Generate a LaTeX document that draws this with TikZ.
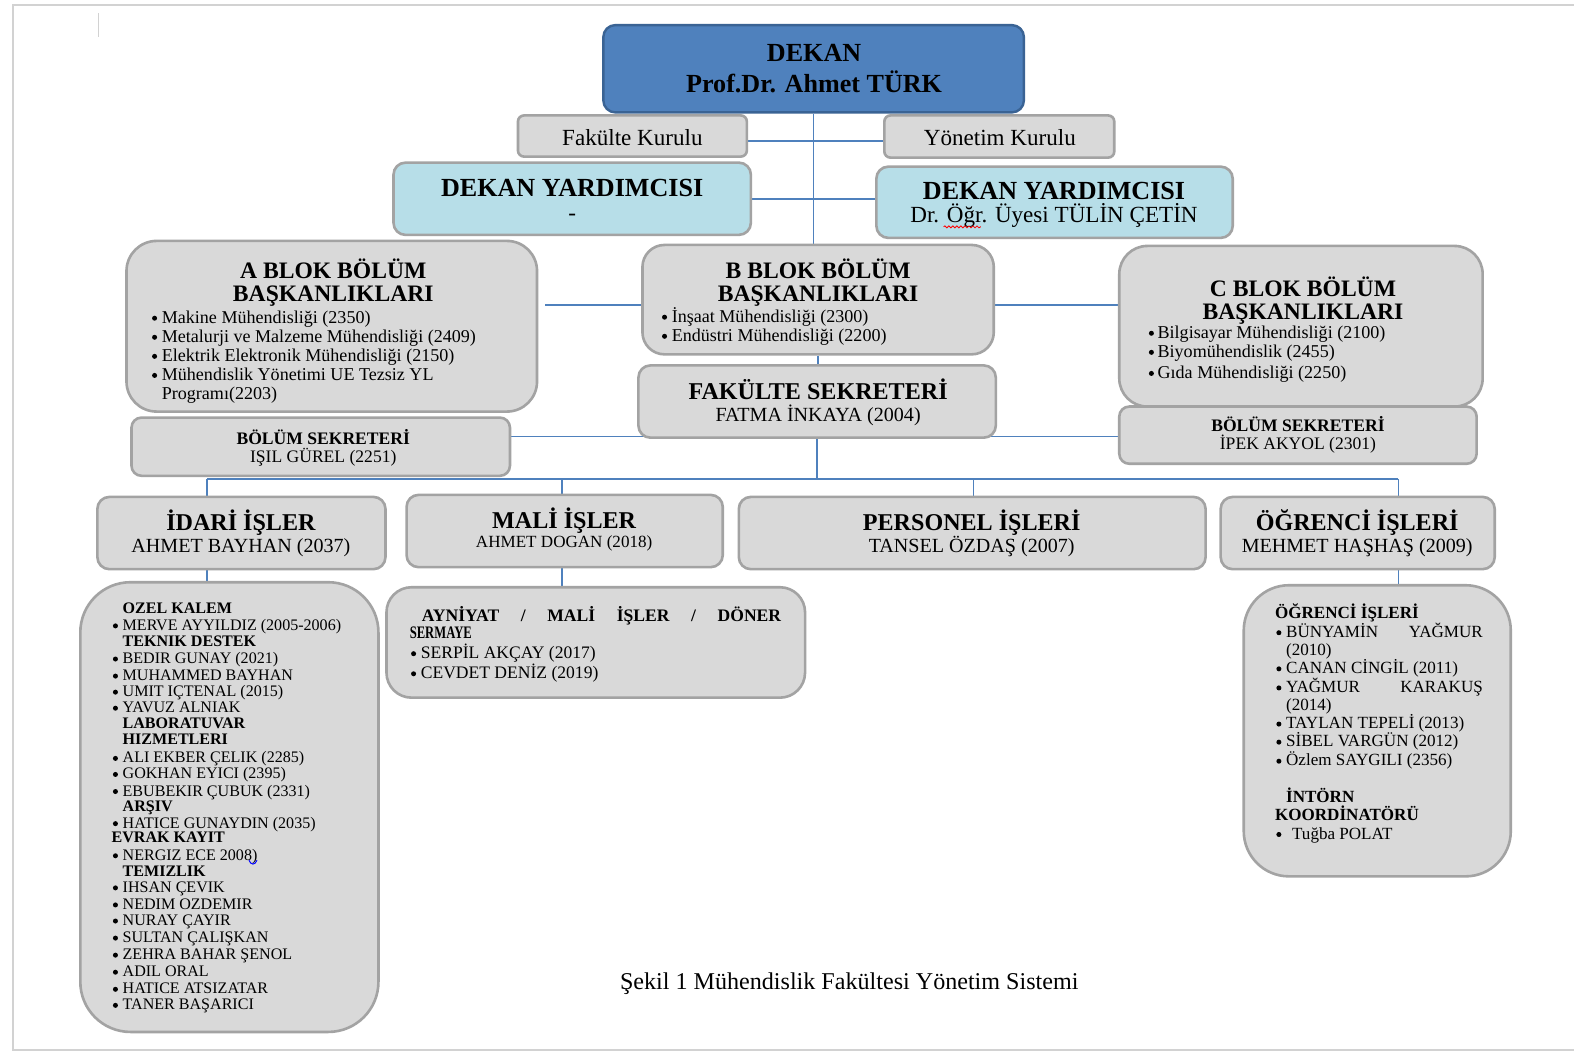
\documentclass[tikz,border=0pt]{standalone}
\usepackage{fontspec}
\usepackage{graphicx}
\setmainfont{Liberation Serif}
\usetikzlibrary{fit,decorations.pathmorphing}
\definecolor{dkfill}{HTML}{4F81BD}
\definecolor{dkline}{HTML}{3A6394}
\definecolor{gfill}{HTML}{D9D9D9}
\definecolor{gline}{HTML}{A3A3A3}
\definecolor{bfill}{HTML}{B7DEE8}
\definecolor{connc}{HTML}{4F81BD}
\definecolor{framec}{HTML}{D2D2D2}
\pgfdeclarelayer{bg}
\pgfsetlayers{bg,main}
\newcommand\fz[1]{\fontsize{#1}{#1}\selectfont}
\newcommand\li[5]{\fill (#1,#3-#4) circle (2.5pt); \node[t] at (#2,#3) {#5};}
\tikzset{
  box/.style={draw=gline, line width=2.6pt, fill=gfill, inner sep=0pt, rounded corners=#1},
  box/.default=12pt,
  t/.style={inner sep=0pt, anchor=base west},
  c/.style={inner sep=0pt, anchor=base},
  conn/.style={draw=connc, line width=1.5pt}
}
\begin{document}
\begin{tikzpicture}[x=1pt,y=-1pt]
\useasboundingbox (0,0) rectangle (1568,1049);
\begin{pgfonlayer}{bg}
\fill[white] (0,0) rectangle (1568,1049);
\end{pgfonlayer}
% page frame
\draw[framec, line width=1.6pt] (1570,5) -- (13,5) -- (13,1046) -- (1570,1046);
\draw[framec, line width=1.6pt] (98,13) -- (98,37);

% boxes
\node[box, fill=dkfill, draw=dkline, line width=2.4pt, fit={(601,25)(1020,112)}] (dekan) {};
\node[box=6pt, fit={(516,115)(744,156)}] (fk) {};
\node[box=6pt, fit={(881,115)(1110,157)}] (yk) {};
\node[box, fill=bfill, fit={(392,162)(748,234)}] (dyl) {};
\node[box, fill=bfill, fit={(873,166)(1228,237)}] (dyr) {};
\node[box=30pt, fit={(126,240)(535,410)}] (ablok) {};
\node[box=22pt, fit={(640,244)(990,353)}] (bblok) {};
\node[box=28pt, fit={(1115,245)(1477,405)}] (cblok) {};
\node[box, fit={(636,364)(992,436)}] (fsek) {};
\node[box=10pt, fit={(131,416)(508,474)}] (bsl) {};
\node[box=10pt, fit={(1115,405)(1471,462)}] (bsr) {};
\node[box, fit={(97,495)(384,567)}] (idari) {};
\node[box, fit={(405,493)(720,565)}] (mali) {};
\node[box, fit={(736,495)(1201,567)}] (pers) {};
\node[box, fit={(1216,495)(1489,567)}] (ogr) {};
\node[box=50pt, fit={(80,580)(377,1028)}] (lstl) {};
\node[box=25pt, fit={(385,585)(802,695)}] (lstm) {};
\node[box=45pt, fit={(1239,583)(1505,873)}] (lstr) {};

% connectors
\coordinate (aend) at (543,304);
\coordinate (busL) at (206,477);
\coordinate (busM) at (560,477);
\coordinate (busP) at (970,477);
\coordinate (busR) at (1393,477);
\begin{pgfonlayer}{bg}
\draw[conn] (dekan.south) -- (dekan.south |- bblok.north);
\draw[conn] (bblok.south) -- (bblok.south |- fsek.north);
\draw[conn] (fsek.south) -- (fsek.south |- busL);
\draw[conn] ([yshift=-5pt]fk.east) -- ([yshift=-5pt]fk.east -| yk.west);
\draw[conn] (dyl.east) -- (dyl.east -| dyr.west);
\draw[conn] (aend) -- (aend -| bblok.west);
\draw[conn] (bblok.east |- aend) -- (aend -| cblok.west);
\draw[conn] ([yshift=10pt]bsl.east) -- ([yshift=10pt]bsl.east -| bsr.west);
\draw[conn] (busL) -- (busR);
\draw[conn] (busL) -- (busL |- idari.north);
\draw[conn] (busM) -- (busM |- mali.north);
\draw[conn] (busP) -- (busP |- pers.north);
\draw[conn] (busR) -- (busR |- ogr.north);
\draw[conn] (busL |- idari.south) -- (busL |- lstl.north);
\draw[conn] (busM |- mali.south) -- (busM |- lstm.north);
\draw[conn] (busR |- ogr.south) -- (busR |- lstr.north);
\end{pgfonlayer}

% top texts
\node[c, font=\fz{26}\bfseries] at (811,61) {DEKAN};
\node[c, font=\fz{26}\bfseries] at (811,92) {Prof.Dr. Ahmet TÜRK};
\node[c, font=\fz{23}] at (630,145) {Fakülte Kurulu};
\node[c, font=\fz{23}] at (996,145) {Yönetim Kurulu};
\node[c, font=\fz{26}\bfseries] at (570,196) {DEKAN YARDIMCISI};
\node[c, font=\fz{23}] at (570,220) {-};
\node[c, font=\fz{26}\bfseries] at (1050,199) {DEKAN YARDIMCISI};
\node[c, font=\fz{23}] at (1050,222) {Dr. Öğr. Üyesi TÜLİN ÇETİN};
\draw[red, line width=0.8pt, decorate, decoration={snake, amplitude=1pt, segment length=4pt}] (940,226) -- (977,226);

% A blok
\node[c, font=\fz{23.5}\bfseries] at (332,277) {A BLOK BÖLÜM};
\node[c, font=\fz{23.5}\bfseries] at (332,300) {BAŞKANLIKLARI};
\begin{scope}[font=\fz{18}]
\li{154}{161}{322}{5}{Makine Mühendisliği (2350)}
\li{154}{161}{341}{5}{Metalurji ve Malzeme Mühendisliği (2409)}
\li{154}{161}{360}{5}{Elektrik Elektronik Mühendisliği (2150)}
\li{154}{161}{379}{5}{Mühendislik Yönetimi UE Tezsiz YL}
\node[t] at (161,398) {Programı(2203)};
\end{scope}

% B blok
\node[c, font=\fz{23.5}\bfseries] at (815,277) {B BLOK BÖLÜM};
\node[c, font=\fz{23.5}\bfseries] at (815,300) {BAŞKANLIKLARI};
\begin{scope}[font=\fz{18}]
\li{662}{669}{321}{5}{İnşaat Mühendisliği (2300)}
\li{662}{669}{340}{5}{Endüstri Mühendisliği (2200)}
\end{scope}

% C blok
\node[c, font=\fz{23.5}\bfseries] at (1298,295) {C BLOK BÖLÜM};
\node[c, font=\fz{23.5}\bfseries] at (1298,318) {BAŞKANLIKLARI};
\begin{scope}[font=\fz{18}]
\li{1147}{1153}{337}{5}{Bilgisayar Mühendisliği (2100)}
\li{1147}{1153}{356}{5}{Biyomühendislik (2455)}
\li{1147}{1153}{377}{5}{Gıda Mühendisliği (2250)}
\end{scope}

% secretaries
\node[c, font=\fz{24}\bfseries] at (815,398) {FAKÜLTE SEKRETERİ};
\node[c, font=\fz{20}] at (815,420) {FATMA İNKAYA (2004)};
\node[c, font=\fz{17.5}\bfseries] at (322,443) {BÖLÜM SEKRETERİ};
\node[c, font=\fz{17.5}] at (322,461) {IŞIL GÜREL (2251)};
\node[c, font=\fz{17.5}\bfseries] at (1293,430) {BÖLÜM SEKRETERİ};
\node[c, font=\fz{17.5}] at (1293,448) {İPEK AKYOL (2301)};

% bottom row
\node[c, font=\fz{24}\bfseries] at (240,528) {İDARİ İŞLER};
\node[c, font=\fz{20}] at (240,550) {AHMET BAYHAN (2037)};
\node[c, font=\fz{24}\bfseries] at (562,526) {MALİ İŞLER};
\node[c, font=\fz{17}] at (562,545) {AHMET DOGAN (2018)};
\node[c, font=\fz{24}\bfseries] at (968,528) {PERSONEL İŞLERİ};
\node[c, font=\fz{20}] at (968,550) {TANSEL ÖZDAŞ (2007)};
\node[c, font=\fz{24}\bfseries] at (1352,528) {ÖĞRENCİ İŞLERİ};
\node[c, font=\fz{20}] at (1352,550) {MEHMET HAŞHAŞ (2009)};

% left list
\begin{scope}[font=\fz{16}]
\node[t, font=\fz{16}\bfseries] at (122,611) {OZEL KALEM};
\li{115}{122}{628}{4.5}{MERVE AYYILDIZ (2005-2006)}
\node[t, font=\fz{16}\bfseries] at (122,644) {TEKNIK DESTEK};
\li{115}{122}{661}{4.5}{BEDIR GUNAY (2021)}
\li{115}{122}{678}{4.5}{MUHAMMED BAYHAN}
\li{115}{122}{694}{4.5}{UMIT IÇTENAL (2015)}
\li{115}{122}{710}{4.5}{YAVUZ ALNIAK}
\node[t, font=\fz{16}\bfseries] at (122,726) {LABORATUVAR};
\node[t, font=\fz{16}\bfseries] at (122,742) {HIZMETLERI};
\li{115}{122}{760}{4.5}{ALI EKBER ÇELIK (2285)}
\li{115}{122}{776}{4.5}{GOKHAN EYICI (2395)}
\li{115}{122}{793}{4.5}{EBUBEKIR ÇUBUK (2331)}
\node[t, font=\fz{16}\bfseries] at (122,808) {ARŞIV};
\li{115}{122}{825}{4.5}{HATICE GUNAYDIN (2035)}
\node[t, font=\fz{16}\bfseries] at (111,839) {EVRAK KAYIT};
\li{115}{122}{857}{4.5}{NERGIZ ECE 2008)}
\node[t, font=\fz{16}\bfseries] at (122,873) {TEMIZLIK};
\li{115}{122}{889}{4.5}{IHSAN ÇEVIK}
\li{115}{122}{906}{4.5}{NEDIM OZDEMIR}
\li{115}{122}{922}{4.5}{NURAY ÇAYIR}
\li{115}{122}{939}{4.5}{SULTAN ÇALIŞKAN}
\li{115}{122}{956}{4.5}{ZEHRA BAHAR ŞENOL}
\li{115}{122}{973}{4.5}{ADIL ORAL}
\li{115}{122}{990}{4.5}{HATICE ATSIZATAR}
\li{115}{122}{1006}{4.5}{TANER BAŞARICI}
\end{scope}
\draw[blue, line width=1pt] (248,857) .. controls (250,862) and (254,862) .. (256,857);

% middle list
\node[t, font=\fz{17.5}\bfseries] at (420,619) {\hbox to 358pt{AYNİYAT\hfill/\hfill MALİ\hfill İŞLER\hfill/\hfill DÖNER}};
\node[t, font=\fz{17.5}\bfseries] at (408,636) {\scalebox{0.72}[1]{SERMAYE}};
\begin{scope}[font=\fz{17.5}]
\li{412}{419}{656}{4.8}{SERPİL AKÇAY (2017)}
\li{412}{419}{676}{4.8}{CEVDET DENİZ (2019)}
\end{scope}

% right list
\begin{scope}[font=\fz{17}]
\node[t, font=\fz{17}\bfseries] at (1270,616) {ÖĞRENCİ İŞLERİ};
\li{1274}{1281}{635}{4.7}{\hbox to 196pt{BÜNYAMİN\hfill YAĞMUR}}
\node[t] at (1281,653) {(2010)};
\li{1274}{1281}{671}{4.7}{CANAN CİNGİL (2011)}
\li{1274}{1281}{690}{4.7}{\hbox to 196pt{YAĞMUR\hfill KARAKUŞ}}
\node[t] at (1281,708) {(2014)};
\li{1274}{1281}{726}{4.7}{TAYLAN TEPELİ (2013)}
\li{1274}{1281}{744}{4.7}{SİBEL VARGÜN (2012)}
\li{1274}{1281}{763}{4.7}{Özlem SAYGILI (2356)}
\node[t, font=\fz{17}\bfseries] at (1281,799) {İNTÖRN};
\node[t, font=\fz{17}\bfseries] at (1270,817) {KOORDİNATÖRÜ};
\li{1274}{1287}{836}{4.7}{Tuğba POLAT}
\end{scope}

% caption
\node[c, font=\fz{24}] (cap) at (846,986) {Şekil 1 Mühendislik Fakültesi Yönetim Sistemi};
\end{tikzpicture}
\end{document}
